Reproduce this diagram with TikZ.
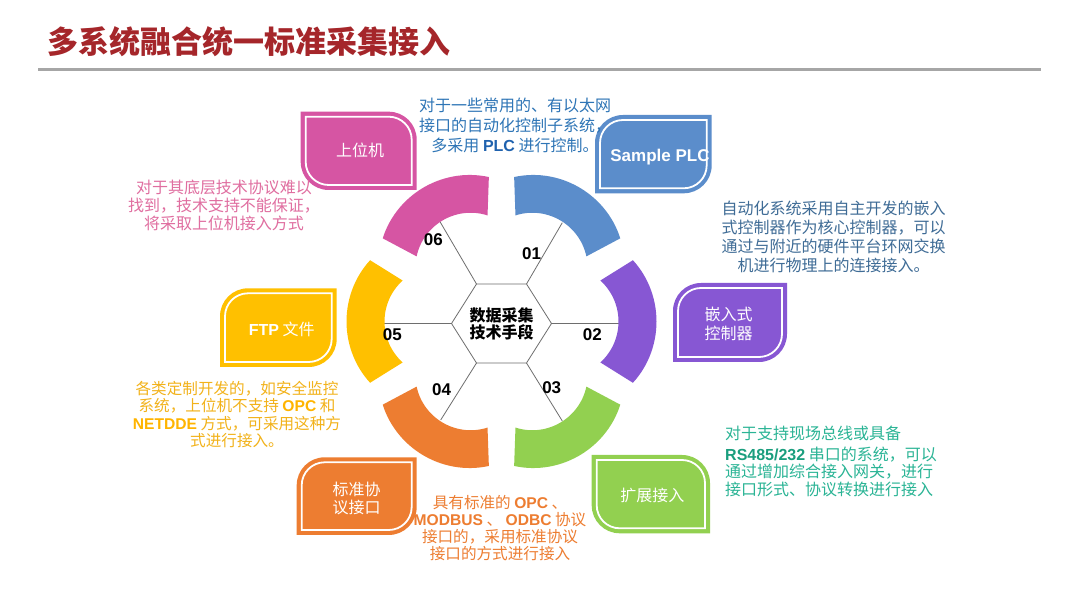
\documentclass[tikz,border=0pt]{standalone}
\usepackage{fontspec}
\setmainfont{Noto Sans CJK SC}
\newfontfamily\latf{Liberation Sans}
\newcommand\latb[1]{{\latf\bfseries #1}}
\definecolor{pinkC}{HTML}{D655A3}
\definecolor{blueC}{HTML}{5B8DCB}
\definecolor{purpleC}{HTML}{8757D3}
\definecolor{greenC}{HTML}{92D050}
\definecolor{orangeC}{HTML}{ED7D31}
\definecolor{yellowC}{HTML}{FFC000}
\definecolor{titleC}{HTML}{A5262A}
\definecolor{lineC}{HTML}{A6A6A6}
\definecolor{tblue}{HTML}{2E75B6}
\definecolor{tblueB}{HTML}{1F62AE}
\definecolor{tright}{HTML}{3F6C96}
\definecolor{tgreen}{HTML}{2AB495}
\definecolor{tgreenB}{HTML}{1A9E7E}
\definecolor{torange}{HTML}{ED7D31}
\definecolor{tyellow}{HTML}{F2B21A}
\definecolor{tyellowB}{HTML}{FFB400}
\definecolor{tpink}{HTML}{E06EA0}
\definecolor{hexC}{HTML}{6E6E6E}
% leaf box, top-right and bottom-left corners rounded
\newcommand\leafA[5]{%
 \fill[#5] (#1,#4) -- ({#3-28},#4) arc[start angle=90,end angle=0,radius=28pt] -- (#3,#2) -- ({#1+28},#2) arc[start angle=270,end angle=180,radius=28pt] -- cycle;
 \draw[white,line width=1.8pt] ({#1+5},{#4-5}) -- ({#3-28},{#4-5}) arc[start angle=90,end angle=0,radius=23pt] -- ({#3-5},{#2+5}) -- ({#1+28},{#2+5}) arc[start angle=270,end angle=180,radius=23pt] -- cycle;
}
% leaf box, top-left and bottom-right corners rounded
\newcommand\leafB[5]{%
 \fill[#5] (#1,#2) -- (#1,{#4-28}) arc[start angle=180,end angle=90,radius=28pt] -- (#3,#4) -- (#3,{#2+28}) arc[start angle=0,end angle=-90,radius=28pt] -- cycle;
 \draw[white,line width=1.8pt] ({#1+5},{#2+5}) -- ({#1+5},{#4-28}) arc[start angle=180,end angle=90,radius=23pt] -- ({#3-5},{#4-5}) -- ({#3-5},{#2+28}) arc[start angle=0,end angle=-90,radius=23pt] -- cycle;
}
\tikzset{
 hexline/.style={draw=hexC,line width=0.8pt},
 numlabel/.style={inner sep=0,font=\latf\bfseries\fontsize{17}{17}\selectfont,text=black},
 boxtext/.style={inner sep=0,align=center,text=white,font=\fontsize{16}{19}\selectfont},
 desc/.style={inner sep=0,align=center,font=\fontsize{16}{19}\selectfont},
}
\begin{document}
\begin{tikzpicture}[x=1pt,y=1pt]
\useasboundingbox (0,0) rectangle (1080,608);
\fill[white] (0,0) rectangle (1080,608);

% title
\node[anchor=west,inner sep=0,font=\fontsize{31}{31}\selectfont\bfseries,text=titleC] (title) at (47,566.3) {多系统融合统一标准采集接入};
\draw[lineC,line width=3pt] (38,538) -- (1041,538);

% hexagon vertices and spoke ends
\coordinate (hL) at (451.5,284.5);
\coordinate (hR) at (551.5,284.5);
\coordinate (hTL) at (476.5,324);
\coordinate (hTR) at (526.5,324);
\coordinate (hBL) at (476.5,245);
\coordinate (hBR) at (526.5,245);
\coordinate (sL) at (378,284.5);
\coordinate (sR) at (626.5,284.5);
\coordinate (sTL) at (440,386.3);
\coordinate (sTR) at (562.3,385.3);
\coordinate (sBL) at (440.7,188);
\coordinate (sBR) at (562.3,187);
\draw[hexline] (hL) -- (sL);
\draw[hexline] (hR) -- (sR);
\draw[hexline] (hTL) -- (sTL);
\draw[hexline] (hTR) -- (sTR);
\draw[hexline] (hBL) -- (sBL);
\draw[hexline] (hBR) -- (sBR);
\draw[hexline,fill=white] (hL) -- (hTL) -- (hTR) -- (hR) -- (hBR) -- (hBL) -- cycle;

% ring segments
\begin{scope}[shift={(501.5,286.5)}]
\foreach \ang/\col in {60/blueC,0/purpleC,-60/greenC,-120/orangeC,180/yellowC,120/pinkC}{
 \fill[\col] plot[domain=-25:25,samples=31] ({\ang+\x}:{155-10*(\x/25)*(\x/25)}) -- plot[domain=22.5:-22.5,samples=31] ({\ang+\x}:{117-10*(\x/22.5)*(\x/22.5)}) -- cycle;
}
\end{scope}

% boxes
\leafA{300.7}{418}{416.7}{496.3}{pinkC}
\leafB{595}{414.7}{711.7}{493}{blueC}
\leafB{673}{246}{787}{325}{purpleC}
\leafA{591.7}{74.7}{710}{153}{greenC}
\leafB{296.7}{73}{416.7}{150.7}{orangeC}
\leafB{220}{241}{336.7}{319.7}{yellowC}

% box texts
\node[boxtext] (b6) at (360,458) {上位机};
\node[boxtext,font=\latf\bfseries\fontsize{17}{19}\selectfont] (b1) at (660,451) {Sample PLC};
\node[boxtext] (b2) at (728.5,284.5) {嵌入式\\控制器};
\node[boxtext] (b3) at (652.3,113) {扩展接入};
\node[boxtext,font=\fontsize{16}{18}\selectfont] (b4) at (356.7,109.7) {标准协\\议接口};
\node[boxtext] (b5) at (281.7,278.7) {\latb{FTP} 文件};

% centre
\node[inner sep=0,align=center,font=\fontsize{16}{17}\selectfont\bfseries] (hexc) at (501.5,284.5) {数据采集\\技术手段};

% numbers
\node[numlabel] (n6) at (433.3,368.7) {06};
\node[numlabel] (n1) at (531.7,354) {01};
\node[numlabel] (n2) at (592.3,273) {02};
\node[numlabel] (n3) at (551.7,220.3) {03};
\node[numlabel] (n4) at (441.7,218) {04};
\node[numlabel] (n5) at (392.3,273) {05};

% descriptions
\node[desc,font=\fontsize{16}{20}\selectfont,text=tblue] (t1) at (515,483) {对于一些常用的、有以太网\\接口的自动化控制子系统，\\多采用 {\color{tblueB}\latb{PLC}} 进行控制。};
\node[desc,text=tright] (t2) at (833.5,371.4) {自动化系统采用自主开发的嵌入\\式控制器作为核心控制器，可以\\通过与附近的硬件平台环网交换\\机进行物理上的连接接入。};
\node[desc,align=left,anchor=west,font=\fontsize{16}{17.5}\selectfont,text=tgreen] (t3) at (725,146.7) {对于支持现场总线或具备\\[3pt]{\color{tgreenB}\latb{RS485/232}} 串口的系统，可以\\通过增加综合接入网关，进行\\接口形式、协议转换进行接入};
\node[desc,font=\fontsize{15.6}{16.8}\selectfont,text=torange] (t4) at (500,80) {具有标准的 \latb{OPC} 、\\\latb{MODBUS} 、 \latb{ODBC} 协议\\接口的，采用标准协议\\接口的方式进行接入};
\node[desc,font=\fontsize{15.6}{17.5}\selectfont,text=tyellow] (t5) at (237,193.5) {各类定制开发的，如安全监控\\系统，上位机不支持 {\color{tyellowB}\latb{OPC}} 和\\{\color{tyellowB}\latb{NETDDE}} 方式，可采用这种方\\式进行接入。};
\node[desc,font=\fontsize{16}{18}\selectfont,text=tpink] (t6) at (224,402.7) {对于其底层技术协议难以\\找到，技术支持不能保证，\\将采取上位机接入方式};
\end{tikzpicture}
\end{document}
